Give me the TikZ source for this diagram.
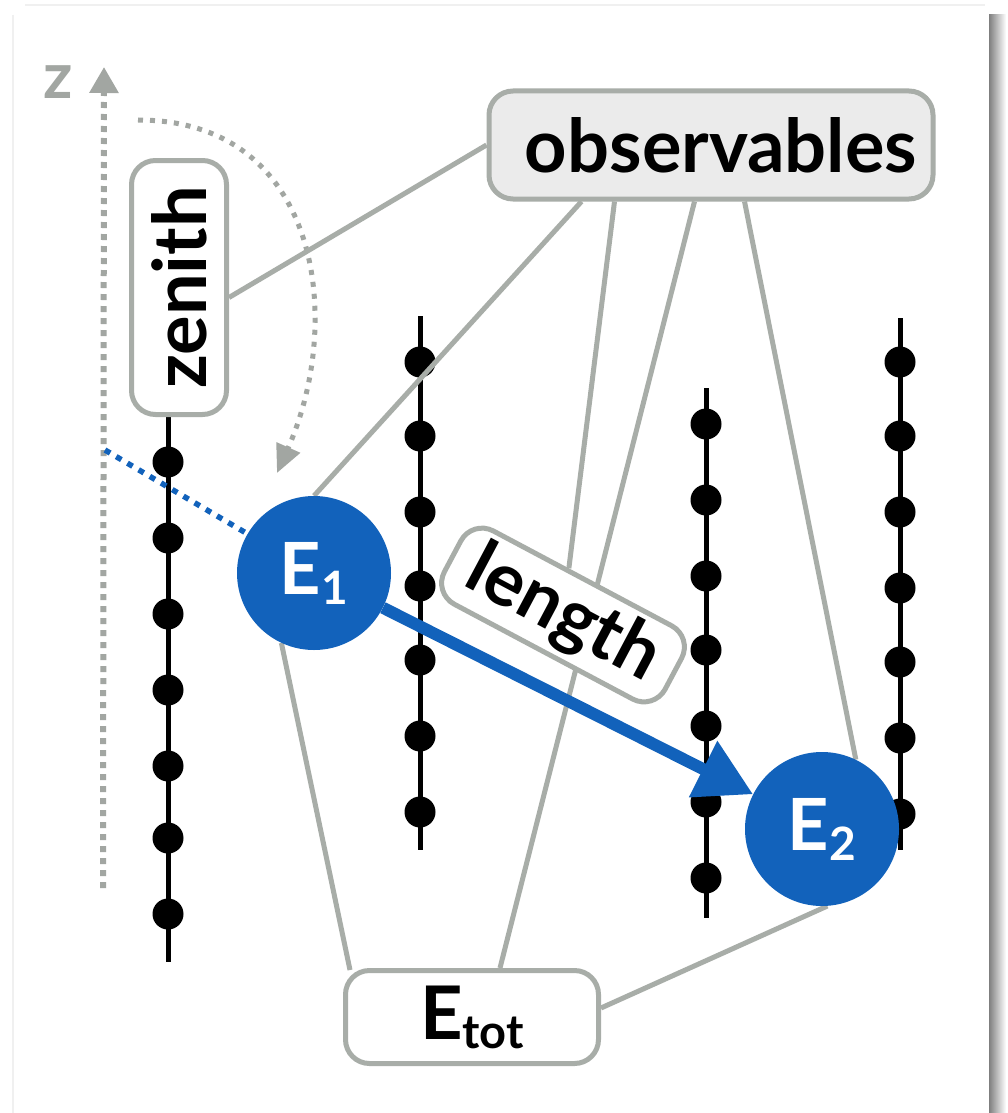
\documentclass[tikz,border=0pt]{standalone}
\usepackage{fontspec}
\usepackage{graphicx}
\setmainfont{Lato}
\usetikzlibrary{arrows.meta,calc}
\definecolor{gline}{RGB}{168,173,168}
\definecolor{eblue}{RGB}{18,98,187}
\definecolor{obsfill}{RGB}{235,235,235}
\definecolor{zgray}{RGB}{162,166,162}
\pgfdeclarelayer{bg}
\pgfdeclarelayer{mid}
\pgfsetlayers{bg,mid,main}
\begin{document}
\begin{tikzpicture}[x=1pt,y=-1pt,
  box/.style={draw=gline, line width=5pt, rounded corners=24pt, fill=white, inner sep=0pt,
    font=\bfseries\fontsize{74}{80}\selectfont, text=black},
  evt/.style={circle, fill=eblue, text=white, inner sep=0pt, minimum size=154pt,
    font=\bfseries\fontsize{72}{76}\selectfont},
  conn/.style={draw=gline, line width=5pt},
  strline/.style={line width=5pt, black},
  zaxis/.style={zgray, line width=6pt, dash pattern=on 6pt off 6pt},
  zcurve/.style={zgray, line width=5pt, dash pattern=on 5pt off 7pt},
  bluedots/.style={eblue, line width=5.5pt, dash pattern=on 6pt off 7pt},
  track/.style={eblue, line width=12pt}
]
\useasboundingbox (0,0) rectangle (1007,1113);
\begin{pgfonlayer}{bg}
  \fill[white] (0,0) rectangle (1007,1113);
  \draw[black!6, line width=1.5pt] (25,5) -- (985,5);
  \draw[black!6, line width=1.5pt] (13,15) -- (13,1113);
  \shade[left color=black!50, right color=white] (989,15) rectangle (1006,1113);
\end{pgfonlayer}

% nodes
\node[box, fill=obsfill, minimum width=444pt, minimum height=108pt] (obs) at (711,145) {\hspace*{20pt}observables};
\node[box, minimum width=95pt, minimum height=254pt] (zen) at (179,287.5) {\rotatebox{90}{zenith}};
\node[box, rotate=-28, minimum width=250pt, minimum height=83pt] (len) at (563,615) {length};
\node[box, minimum width=253pt, minimum height=93pt] (etot) at (472,1017) {E\raisebox{-9pt}{\fontsize{47}{50}\selectfont tot}};
\node[evt] (E1) at (314,573) {E\raisebox{-10pt}{\fontsize{46}{50}\selectfont 1}};
\node[evt] (E2) at (822,829) {E\raisebox{-10pt}{\fontsize{46}{50}\selectfont 2}};
\node[font=\bfseries\fontsize{64}{68}\selectfont, text=zgray] (zlab) at (58,82) {z};

\coordinate (zbot) at (103,888);
\coordinate (ztop) at (104,67);
\coordinate (cstart) at (138,120);
\coordinate (cend) at (277,473);
\coordinate (bstart) at (105,450);

\begin{pgfonlayer}{bg}
  \draw[zaxis, -{Triangle[length=26pt,width=28pt]}] (zbot) -- (ztop);
  \draw[zcurve, -{Triangle[length=28pt,width=25pt]}] (cstart) .. controls (320,120) and (345,320) .. (cend);
  \foreach \x/\ya/\yb/\ds in {168/417/962/{462,538,614,690,766,838,914},
                              420/316/850/{362,436,512,586,660,736,812},
                              706/388/918/{424,500,576,650,726,802,878},
                              900/318/850/{362,436,512,588,662,738,814}}{
    \draw[strline] (\x,\ya) -- (\x,\yb);
    \foreach \d in \ds { \fill (\x,\d) circle (15.5); }
  }
\end{pgfonlayer}

\begin{pgfonlayer}{mid}
  \draw[conn] (obs.west) -- ($(zen.east)+(0,10)$);
  \draw[conn] ($(obs.south west)+(95,0)$) -- (E1.north);
  \draw[conn] ($(obs.south west)+(128,0)$) -- (len);
  \draw[conn] ($(obs.south west)+(208,0)$) -- ($(etot.north)+(28,0)$);
  \draw[conn] ($(obs.south west)+(258,0)$) -- (E2.64);
  \draw[conn] ($(etot.north west)+(7,2)$) -- (E1.245);
  \draw[conn] ($(etot.east)+(0,-9)$) -- (E2.-86);
  \draw[bluedots] (bstart) -- (E1);
  \draw[track, -{Triangle[length=56pt,width=60pt]}] (E1) -- (E2);
\end{pgfonlayer}
\end{tikzpicture}
\end{document}
